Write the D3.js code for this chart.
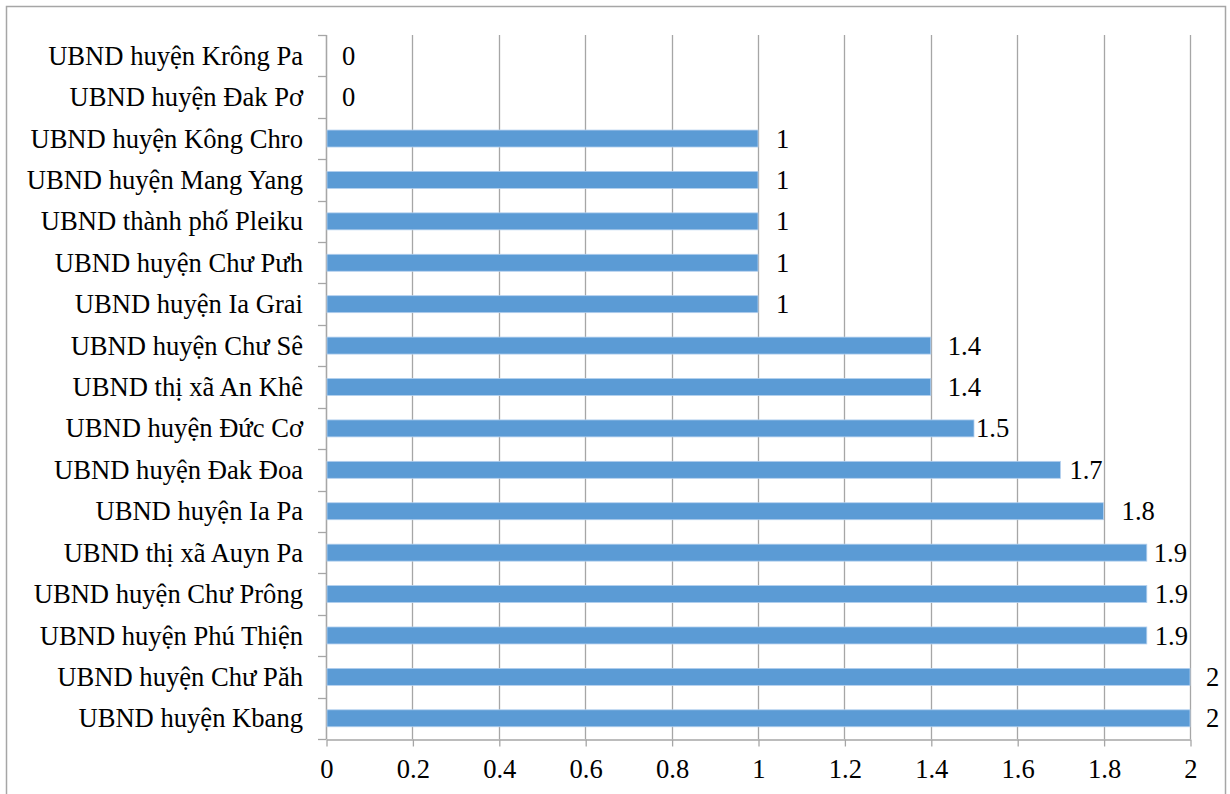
<!DOCTYPE html>
<html>
<head>
<meta charset="utf-8">
<script src="https://cdn.jsdelivr.net/npm/d3@7"></script>
<style>
  html, body { margin: 0; padding: 0; background: #ffffff; }
  svg { display: block; }
  text { font-family: "Liberation Serif", "Times New Roman", serif; fill: #000; }
</style>
</head>
<body>
<svg id="chart" width="1230" height="794"></svg>
<script>
// Units, top to bottom
const categories = [
  "UBND huyện Krông Pa",
  "UBND huyện Đak Pơ",
  "UBND huyện Kông Chro",
  "UBND huyện Mang Yang",
  "UBND thành phố Pleiku",
  "UBND huyện Chư Pưh",
  "UBND huyện Ia Grai",
  "UBND huyện Chư Sê",
  "UBND thị xã An Khê",
  "UBND huyện Đức Cơ",
  "UBND huyện Đak Đoa",
  "UBND huyện Ia Pa",
  "UBND thị xã Auyn Pa",
  "UBND huyện Chư Prông",
  "UBND huyện Phú Thiện",
  "UBND huyện Chư Păh",
  "UBND huyện Kbang"
];
const values = [0, 0, 1, 1, 1, 1, 1, 1.4, 1.4, 1.5, 1.7, 1.8, 1.9, 1.9, 1.9, 2, 2];
const xTicks = [0, 0.2, 0.4, 0.6, 0.8, 1, 1.2, 1.4, 1.6, 1.8, 2];
const xTickLabels = ["0", "0.2", "0.4", "0.6", "0.8", "1", "1.2", "1.4", "1.6", "1.8", "2"];

// Horizontal gap between each bar end and its value label
const labelGap = [16, 16, 18, 18, 18, 18, 18, 17, 17, 2, 9, 18, 7, 8, 8, 16, 16];

const fontSize = 26.6;
const svg = d3.select("#chart");
const plot = { left: 326, right: 1190, top: 35, bottom: 739 };
const gridColor = "#a6a6a6";

// Outer frame
svg.append("rect")
  .attr("x", 6.5).attr("y", 6.5)
  .attr("width", 1219).attr("height", 800)
  .attr("fill", "none")
  .attr("stroke", gridColor)
  .attr("stroke-width", 1.5);

const x = d3.scaleLinear().domain([0, 2]).range([plot.left, plot.right]);
const y = d3.scaleBand()
  .domain(categories)
  .range([plot.top, plot.bottom])
  .paddingInner(0.59)
  .paddingOuter(0.295);

const step = (plot.bottom - plot.top) / categories.length;

// Vertical gridlines
svg.append("g")
  .selectAll("line")
  .data(xTicks)
  .join("line")
  .attr("x1", d => Math.round(x(d)) + 0.5)
  .attr("x2", d => Math.round(x(d)) + 0.5)
  .attr("y1", plot.top)
  .attr("y2", plot.bottom)
  .attr("stroke", gridColor)
  .attr("stroke-width", 1.3);

// Bottom axis
const xAxis = d3.axisBottom(x)
  .tickValues(xTicks)
  .tickFormat((d, i) => xTickLabels[i])
  .tickSize(7)
  .tickPadding(13)
  .tickSizeOuter(0);
const gx = svg.append("g")
  .attr("transform", `translate(0.5,${plot.bottom + 0.5})`)
  .call(xAxis);
gx.attr("font-family", null).attr("font-size", null);
gx.select(".domain").attr("stroke", gridColor).attr("stroke-width", 1.3);
gx.selectAll(".tick line").attr("stroke", gridColor).attr("stroke-width", 1.3);
gx.selectAll(".tick text")
  .attr("font-size", fontSize)
  .attr("fill", "#000")
  .attr("dy", "0.71em");

// Left axis line with ticks at category boundaries
svg.append("line")
  .attr("x1", plot.left + 0.5).attr("x2", plot.left + 0.5)
  .attr("y1", plot.top).attr("y2", plot.bottom)
  .attr("stroke", gridColor).attr("stroke-width", 1.3);
svg.append("g")
  .selectAll("line")
  .data(d3.range(categories.length + 1))
  .join("line")
  .attr("x1", plot.left - 8)
  .attr("x2", plot.left + 0.5)
  .attr("y1", k => Math.round(plot.top + k * step) + 0.5)
  .attr("y2", k => Math.round(plot.top + k * step) + 0.5)
  .attr("stroke", gridColor)
  .attr("stroke-width", 1.3);

// Category labels
svg.append("g")
  .selectAll("text")
  .data(categories)
  .join("text")
  .attr("x", plot.left - 23)
  .attr("y", d => y(d) + y.bandwidth() / 2)
  .attr("dy", "0.34em")
  .attr("text-anchor", "end")
  .attr("font-size", fontSize)
  .text(d => d);

// Bars
svg.append("g")
  .selectAll("rect")
  .data(values)
  .join("rect")
  .attr("x", plot.left + 1)
  .attr("y", (d, i) => y(categories[i]))
  .attr("width", d => Math.max(0, x(d) - plot.left - 1))
  .attr("height", y.bandwidth())
  .attr("fill", "#5b9bd5")
  .attr("stroke", d => d > 0 ? "#b4d0ee" : "none")
  .attr("stroke-width", 0.8);

// Value labels
svg.append("g")
  .selectAll("text")
  .data(values)
  .join("text")
  .attr("x", (d, i) => x(d) + labelGap[i])
  .attr("y", (d, i) => y(categories[i]) + y.bandwidth() / 2)
  .attr("dy", "0.34em")
  .attr("font-size", fontSize)
  .text(d => String(d));
</script>
</body>
</html>
